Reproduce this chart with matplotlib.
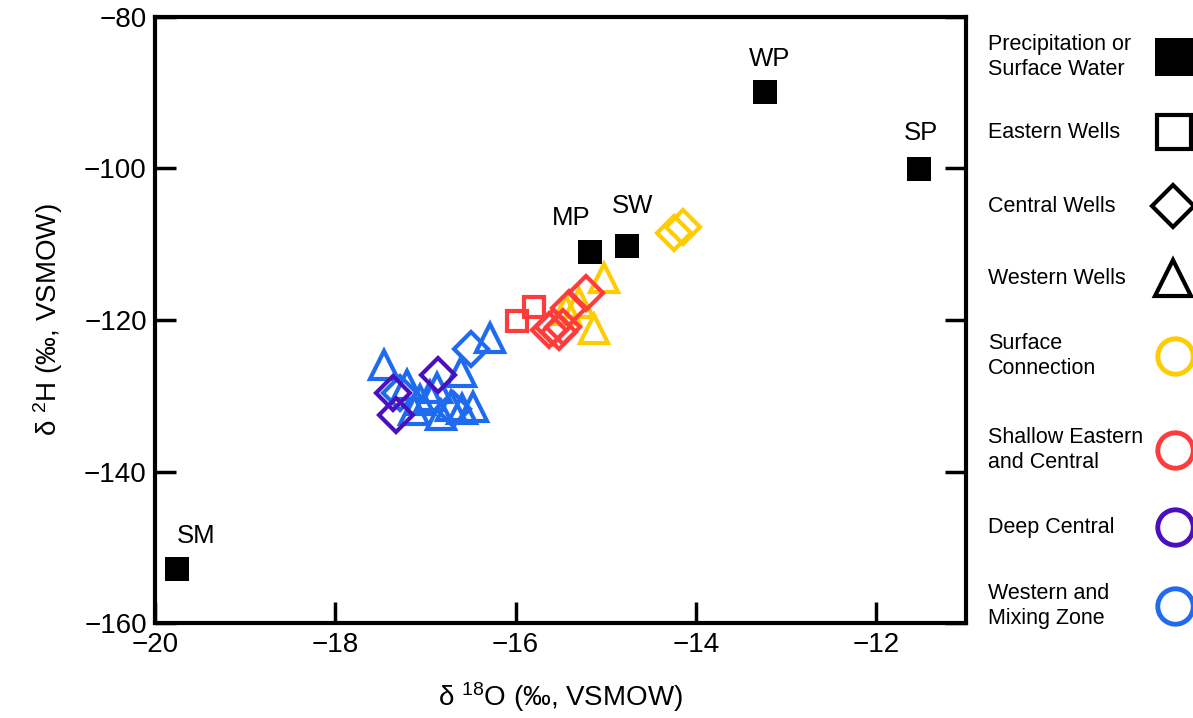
import matplotlib
matplotlib.use("Agg")
import matplotlib.pyplot as plt

plt.rcParams['font.family'] = ['Liberation Sans', 'DejaVu Sans']
plt.rcParams['mathtext.fontset'] = 'custom'
plt.rcParams['mathtext.rm'] = 'Liberation Sans'
plt.rcParams['mathtext.it'] = 'Liberation Sans:italic'

# ---------------- data ----------------
# Precipitation / surface water end members (black filled squares)
ref_names = ["WP", "SP", "MP", "SW", "SM"]
ref_d18O = [-13.23, -11.52, -15.17, -14.77, -19.76]
ref_d2H = [-90.0, -100.1, -111.1, -110.3, -152.9]

# Surface Connection (yellow)
sc_tri_d18O = [-15.02, -15.30, -15.13, -15.44]
sc_tri_d2H = [-114.5, -117.8, -121.25, -118.7]
sc_dia_d18O = [-14.24, -14.14]
sc_dia_d2H = [-108.6, -107.8]

# Shallow Eastern and Central (red)
sh_sq_d18O = [-15.98, -15.80]
sh_sq_d2H = [-120.1, -118.35]
sh_dia_d18O = [-15.22, -15.41, -15.63, -15.58, -15.52, -15.48]
sh_dia_d2H = [-116.5, -118.5, -121.4, -121.0, -121.65, -121.0]

# Deep Central (purple)
dc_dia_d18O = [-16.86, -17.36, -17.33]
dc_dia_d2H = [-127.3, -129.6, -132.6]

# Western and Mixing Zone (blue)
wm_tri_d18O = [-17.46, -17.20, -16.61, -16.29, -16.47, -16.83, -16.87,
               -16.72, -17.06, -17.13, -16.95, -16.60]
wm_tri_d2H = [-126.0, -128.65, -126.9, -122.4, -131.5, -132.6, -129.0,
              -131.3, -130.6, -131.9, -130.0, -131.8]
wm_dia_d18O = [-16.50, -17.28, -16.70]
wm_dia_d2H = [-123.8, -129.6, -131.7]

legend_labels = ["Precipitation or\nSurface Water", "Eastern Wells",
                 "Central Wells", "Western Wells", "Surface\nConnection",
                 "Shallow Eastern\nand Central", "Deep Central",
                 "Western and\nMixing Zone"]

x_ticks = [-20, -18, -16, -14, -12]
y_ticks = [-160, -140, -120, -100, -80]

# ---------------- styles ----------------
YEL = '#FFCC00'
RED = '#FF3B3B'
PUR = '#4A10BE'
BLU = '#1F6BF0'
MEW = 3.0

fig = plt.figure(figsize=(11.93, 7.18), dpi=100)
ax = fig.add_axes([0.130, 0.132, 0.680, 0.845])

def open_pts(x, y, marker, color, ms):
    ax.plot(x, y, linestyle='none', marker=marker, ms=ms,
            markerfacecolor='none', markeredgecolor=color, mew=MEW)

# blue / purple cluster
open_pts(wm_tri_d18O, wm_tri_d2H, '^', BLU, 20)
open_pts(wm_dia_d18O, wm_dia_d2H, 'D', BLU, 17)
open_pts(dc_dia_d18O, dc_dia_d2H, 'D', PUR, 17)
# yellow / red cluster
open_pts(sc_tri_d18O, sc_tri_d2H, '^', YEL, 20)
open_pts(sc_dia_d18O, sc_dia_d2H, 'D', YEL, 17)
open_pts(sh_sq_d18O, sh_sq_d2H, 's', RED, 14.5)
open_pts(sh_dia_d18O, sh_dia_d2H, 'D', RED, 17)

# end members
ax.plot(ref_d18O, ref_d2H, linestyle='none', marker='s', ms=17,
        color='black', mew=0)
label_offsets = {"WP": (3, 24), "SP": (1, 26), "MP": (-14, 25),
                 "SW": (4, 29), "SM": (14, 24)}
for n, xv, yv in zip(ref_names, ref_d18O, ref_d2H):
    ax.annotate(n, (xv, yv), xytext=label_offsets[n],
                textcoords='offset points', ha='center', va='center',
                fontsize=18.5)

ax.set_xlim(-20, -11)
ax.set_ylim(-160, -80)
ax.set_xticks(x_ticks)
ax.set_yticks(y_ticks)
ax.set_xticklabels([f"\u2212{abs(v)}" for v in x_ticks])
ax.set_yticklabels([f"\u2212{abs(v)}" for v in y_ticks])
ax.tick_params(axis='both', direction='in', length=15, width=2.5,
               labelsize=20, pad=6)
ax.tick_params(axis='y', right=True, left=True)
ax.tick_params(axis='x', top=False, bottom=True)
for s in ax.spines.values():
    s.set_linewidth(3)

ax.set_xlabel(r'δ $\mathregular{^{18}}$O (‰, VSMOW)', fontsize=20, labelpad=16)
ax.set_ylabel(r'δ $\mathregular{^{2}}$H (‰, VSMOW)', fontsize=20, labelpad=14)

# ---------------- legend (manual, to the right) ----------------
lg = fig.add_axes([0, 0, 1, 1], facecolor='none')
lg.set_xlim(0, 1193)
lg.set_ylim(718, 0)
lg.axis('off')
leg_y = [57, 132, 206, 278, 356, 450, 527, 606]
leg_style = [
    dict(marker='s', ms=28, markerfacecolor='black', markeredgecolor='black', mew=0),
    dict(marker='s', ms=25, markerfacecolor='none', markeredgecolor='black', mew=3),
    dict(marker='D', ms=21, markerfacecolor='none', markeredgecolor='black', mew=3),
    dict(marker='^', ms=26, markerfacecolor='none', markeredgecolor='black', mew=3),
    dict(marker='o', ms=25.5, markerfacecolor='none', markeredgecolor=YEL, mew=3.5),
    dict(marker='o', ms=25.5, markerfacecolor='none', markeredgecolor=RED, mew=3.5),
    dict(marker='o', ms=25.5, markerfacecolor='none', markeredgecolor=PUR, mew=3.5),
    dict(marker='o', ms=25.5, markerfacecolor='none', markeredgecolor=BLU, mew=3.5),
]
leg_mx = [1174, 1174, 1173, 1173, 1175, 1175, 1175, 1175]
for lab, yy, st, mx in zip(legend_labels, leg_y, leg_style, leg_mx):
    lg.text(988, yy, lab, ha='left', va='center', fontsize=15.5,
            linespacing=1.25)
    lg.plot([mx], [yy], linestyle='none', clip_on=False, **st)

fig.savefig('out.png', dpi=100)
